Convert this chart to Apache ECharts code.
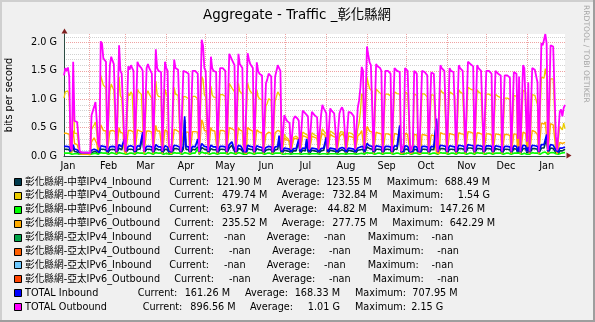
<!DOCTYPE html>
<html><head><meta charset="utf-8">
<script src="https://cdn.jsdelivr.net/npm/echarts@6/dist/echarts.min.js"></script>
<style>html,body{margin:0;padding:0;background:#F0F0F0}#c{width:595px;height:322px}</style>
</head><body><div id="c"></div>
<script>
// ---- data (values in Gbit/s, one per day starting 2025-01-13) ----
const startDate = [2025, 0, 13];
const dayCount = 383;
const monthNames = ['Jan','Feb','Mar','Apr','May','Jun','Jul','Aug','Sep','Oct','Nov','Dec'];
const yTickLabels = ['0.0 G','0.5 G','1.0 G','1.5 G','2.0 G'];

const outTotal = [
1.42,1.55,1.50,1.56,1.40,0.15,0.10, 1.66,0.62,0.60,0.60,0.58,0.08,0.06, 0.06,0.05,0.06,0.05,0.06,0.05,0.05,
0.72,0.75,0.87,0.95,0.62,0.22,0.15, 2.02,1.98,1.72,1.70,1.66,0.10,0.08, 1.60,1.75,1.68,1.62,1.60,0.08,0.07,
1.95,1.50,1.45,1.42,0.25,0.08,0.07, 1.58,1.52,1.60,1.55,1.50,0.09,0.07, 1.66,1.60,1.58,1.55,1.50,0.08,0.07,
1.55,1.62,1.55,1.50,1.45,0.08,0.07, 1.88,1.55,1.50,1.52,1.48,0.09,0.07, 1.66,1.55,1.50,0.20,0.15,0.08,0.07,
1.70,1.55,1.58,1.52,1.50,0.08,0.07, 1.50,1.52,1.48,1.50,1.45,0.08,0.07, 1.50,1.52,1.50,1.48,1.45,0.08,0.07,
2.05,1.95,1.55,1.50,1.50,0.09,0.07, 1.75,1.55,1.50,1.50,1.48,0.08,0.07, 1.55,1.58,1.55,1.52,1.50,0.08,0.07,
1.80,1.75,1.70,1.65,1.60,0.08,0.07, 1.80,1.62,1.60,1.55,0.20,0.08,0.07, 1.81,1.70,1.62,1.60,1.55,0.08,0.07,
1.65,1.50,1.45,1.45,1.42,0.08,0.07, 1.28,1.35,1.45,1.45,1.40,0.08,0.07, 1.40,1.42,1.60,1.55,1.50,0.10,0.08,
0.72,0.66,0.62,0.60,0.58,0.12,0.10, 0.65,0.70,0.68,0.66,0.62,0.12,0.10, 0.80,0.78,0.75,0.72,0.70,0.12,0.10,
0.78,0.75,0.72,0.70,0.68,0.12,0.10, 0.72,0.90,0.84,0.80,0.75,0.12,0.10, 0.84,0.80,0.78,0.75,0.72,0.12,0.10,
0.75,0.82,0.86,0.80,0.78,0.12,0.10, 0.78,0.80,0.76,0.74,0.70,0.12,0.10, 0.85,0.98,1.20,1.57,1.50,0.12,0.10,
1.93,1.78,1.65,1.60,1.58,0.09,0.07, 1.62,1.58,1.55,1.55,1.50,0.08,0.07, 1.50,1.48,1.50,1.48,1.45,0.08,0.07,
1.55,1.52,1.50,1.50,1.48,0.08,0.07, 0.20,1.55,1.52,1.50,1.48,0.08,0.07, 0.20,1.50,1.50,1.45,0.20,0.08,0.07,
1.50,1.50,1.48,1.45,1.42,0.08,0.07, 1.47,1.45,1.45,1.42,0.20,0.08,0.07, 1.60,1.55,1.52,1.50,1.48,0.08,0.07,
1.55,1.50,1.50,1.48,1.45,0.08,0.07, 1.60,1.55,1.52,1.50,1.48,0.08,0.07, 1.66,1.65,1.62,1.60,1.58,0.08,0.07,
1.60,1.55,1.55,1.50,1.48,0.08,0.07, 1.50,1.52,1.50,1.48,1.45,0.08,0.07, 1.50,1.50,1.45,1.45,1.42,0.08,0.07,
1.42,1.45,1.42,1.40,1.38,0.08,0.07, 1.48,1.50,1.45,0.30,1.40,0.08,0.07, 1.60,1.55,1.55,0.25,1.30,0.08,0.07,
1.55,1.55,1.52,1.50,1.30,0.08,0.07, 1.99,1.95,1.95,2.15,1.98,0.10,0.08, 1.95,1.95,1.93,1.90,0.35,0.10,0.08,
0.78,0.82,0.70,0.85,0.90];

const outV4 = [
1.02,1.13,1.10,1.15,1.02,0.09,0.05, 1.21,0.40,0.40,0.40,0.39,0.04,0.02, 0.03,0.02,0.03,0.02,0.03,0.02,0.02,
0.47,0.47,0.55,0.60,0.40,0.16,0.10, 1.42,1.40,1.25,1.22,1.20,0.05,0.04, 1.14,1.27,1.21,1.16,1.15,0.04,0.03,
1.40,1.06,1.02,1.00,0.16,0.04,0.03, 1.12,1.06,1.13,1.09,1.06,0.05,0.03, 1.18,1.13,1.12,1.09,1.06,0.04,0.03,
1.09,1.15,1.09,1.05,1.01,0.04,0.03, 1.32,1.09,1.05,1.06,1.04,0.05,0.03, 1.18,1.09,1.05,0.12,0.08,0.04,0.03,
1.21,1.09,1.11,1.07,1.06,0.04,0.03, 1.05,1.06,1.04,1.05,1.01,0.04,0.03, 1.05,1.06,1.05,1.04,1.01,0.04,0.03,
1.40,1.35,1.08,1.04,1.04,0.05,0.03, 1.23,1.08,1.04,1.04,1.03,0.04,0.03, 1.08,1.10,1.08,1.06,1.05,0.04,0.03,
1.28,1.24,1.20,1.17,1.13,0.04,0.03, 1.28,1.14,1.13,1.09,0.12,0.04,0.03, 1.29,1.20,1.14,1.13,1.09,0.04,0.03,
1.17,1.05,1.01,1.01,0.99,0.04,0.03, 0.88,0.93,1.01,1.01,0.98,0.04,0.03, 0.97,0.98,1.13,1.09,1.05,0.06,0.04,
0.38,0.34,0.32,0.30,0.29,0.07,0.05, 0.33,0.36,0.35,0.34,0.31,0.07,0.05, 0.42,0.41,0.39,0.37,0.36,0.07,0.05,
0.41,0.39,0.37,0.36,0.35,0.07,0.05, 0.37,0.48,0.44,0.42,0.39,0.07,0.05, 0.44,0.42,0.41,0.39,0.37,0.07,0.05,
0.39,0.43,0.45,0.42,0.41,0.07,0.05, 0.41,0.42,0.40,0.39,0.36,0.07,0.05, 0.48,0.58,0.78,1.10,1.06,0.07,0.05,
1.39,1.28,1.19,1.16,1.14,0.05,0.03, 1.18,1.15,1.13,1.13,1.09,0.04,0.03, 1.09,1.08,1.09,1.08,1.06,0.04,0.03,
1.13,1.11,1.10,1.10,1.09,0.04,0.03, 0.12,1.13,1.11,1.10,1.09,0.04,0.03, 0.12,1.10,1.10,1.06,0.12,0.04,0.03,
1.10,1.10,1.09,1.06,1.04,0.04,0.03, 1.08,1.06,1.07,1.04,0.12,0.04,0.03, 1.17,1.13,1.11,1.10,1.08,0.04,0.03,
1.13,1.10,1.10,1.09,1.06,0.04,0.03, 1.17,1.13,1.11,1.10,1.08,0.04,0.03, 1.21,1.21,1.18,1.17,1.16,0.04,0.03,
1.17,1.13,1.13,1.10,1.08,0.04,0.03, 1.09,1.10,1.09,1.08,1.06,0.04,0.03, 1.09,1.09,1.05,1.05,1.03,0.04,0.03,
1.02,1.04,1.02,1.01,1.00,0.04,0.03, 1.07,1.08,1.05,0.20,1.01,0.04,0.03, 1.16,1.13,1.13,0.16,0.92,0.04,0.03,
1.08,1.09,1.07,1.06,0.90,0.04,0.03, 1.39,1.36,1.37,1.54,1.39,0.05,0.04, 1.36,1.37,1.36,1.33,0.22,0.05,0.04,
0.52,0.55,0.46,0.58,0.48];

const outV6 = [
0.40,0.42,0.40,0.41,0.38,0.06,0.05, 0.45,0.22,0.20,0.20,0.19,0.04,0.04, 0.03,0.03,0.03,0.03,0.03,0.03,0.03,
0.25,0.28,0.32,0.35,0.22,0.06,0.05, 0.55,0.52,0.45,0.45,0.44,0.05,0.04, 0.44,0.46,0.45,0.44,0.43,0.04,0.04,
0.50,0.42,0.41,0.40,0.08,0.04,0.04, 0.45,0.44,0.45,0.44,0.42,0.04,0.04, 0.46,0.45,0.44,0.44,0.42,0.04,0.04,
0.44,0.45,0.44,0.43,0.42,0.04,0.04, 0.54,0.44,0.43,0.44,0.42,0.04,0.04, 0.46,0.44,0.43,0.07,0.06,0.04,0.04,
0.47,0.44,0.45,0.43,0.42,0.04,0.04, 0.43,0.44,0.42,0.43,0.42,0.04,0.04, 0.43,0.44,0.43,0.42,0.42,0.04,0.04,
0.64,0.58,0.45,0.44,0.44,0.04,0.04, 0.50,0.45,0.44,0.44,0.43,0.04,0.04, 0.45,0.46,0.45,0.44,0.43,0.04,0.04,
0.50,0.49,0.48,0.46,0.45,0.04,0.04, 0.50,0.46,0.45,0.44,0.07,0.04,0.04, 0.50,0.48,0.46,0.45,0.44,0.04,0.04,
0.46,0.43,0.42,0.42,0.41,0.04,0.04, 0.38,0.40,0.42,0.42,0.40,0.04,0.04, 0.41,0.42,0.45,0.44,0.43,0.04,0.04,
0.32,0.30,0.28,0.28,0.27,0.05,0.05, 0.30,0.32,0.31,0.30,0.29,0.05,0.05, 0.36,0.35,0.34,0.33,0.32,0.05,0.05,
0.35,0.34,0.33,0.32,0.31,0.05,0.05, 0.33,0.40,0.38,0.36,0.34,0.05,0.05, 0.38,0.36,0.35,0.34,0.33,0.05,0.05,
0.34,0.37,0.39,0.36,0.35,0.05,0.05, 0.35,0.36,0.34,0.33,0.32,0.05,0.05, 0.35,0.38,0.40,0.45,0.42,0.05,0.05,
0.52,0.48,0.44,0.42,0.42,0.04,0.04, 0.42,0.41,0.40,0.40,0.39,0.04,0.04, 0.39,0.38,0.39,0.38,0.37,0.04,0.04,
0.40,0.39,0.38,0.38,0.37,0.04,0.04, 0.06,0.40,0.39,0.38,0.37,0.04,0.04, 0.06,0.38,0.38,0.37,0.06,0.04,0.04,
0.38,0.38,0.37,0.37,0.36,0.04,0.04, 0.37,0.37,0.36,0.36,0.06,0.04,0.04, 0.41,0.40,0.39,0.38,0.38,0.04,0.04,
0.40,0.38,0.38,0.37,0.37,0.04,0.04, 0.41,0.40,0.39,0.38,0.38,0.04,0.04, 0.43,0.42,0.42,0.41,0.40,0.04,0.04,
0.41,0.40,0.40,0.38,0.38,0.04,0.04, 0.39,0.40,0.39,0.38,0.37,0.04,0.04, 0.39,0.39,0.38,0.38,0.37,0.04,0.04,
0.38,0.39,0.38,0.37,0.36,0.04,0.04, 0.39,0.40,0.38,0.08,0.37,0.04,0.04, 0.42,0.40,0.40,0.07,0.36,0.04,0.04,
0.45,0.44,0.43,0.42,0.38,0.04,0.04, 0.58,0.57,0.56,0.60,0.57,0.05,0.04, 0.57,0.56,0.55,0.55,0.12,0.04,0.04,
0.24,0.25,0.22,0.24,0.24];

const inTotal = [
0.17,0.18,0.17,0.18,0.16,0.08,0.07, 0.20,0.12,0.11,0.11,0.10,0.06,0.06, 0.06,0.06,0.06,0.06,0.06,0.06,0.06,
0.10,0.11,0.12,0.13,0.10,0.07,0.06, 0.18,0.19,0.17,0.17,0.16,0.07,0.07, 0.16,0.18,0.17,0.16,0.16,0.07,0.07,
0.20,0.17,0.16,0.16,0.30,0.08,0.07, 0.17,0.16,0.18,0.17,0.16,0.07,0.07, 0.18,0.17,0.17,0.16,0.42,0.08,0.07,
0.17,0.18,0.17,0.16,0.16,0.07,0.07, 0.20,0.17,0.16,0.17,0.16,0.07,0.07, 0.18,0.17,0.16,0.08,0.08,0.07,0.07,
0.19,0.17,0.18,0.17,0.16,0.07,0.07, 0.17,0.70,0.17,0.16,0.16,0.07,0.07, 0.17,0.17,0.16,0.16,0.30,0.07,0.07,
0.22,0.20,0.17,0.16,0.16,0.07,0.07, 0.19,0.17,0.16,0.17,0.16,0.07,0.07, 0.17,0.18,0.17,0.16,0.16,0.07,0.07,
0.20,0.19,0.25,0.18,0.17,0.07,0.07, 0.19,0.17,0.17,0.16,0.08,0.07,0.07, 0.19,0.18,0.17,0.17,0.16,0.07,0.07,
0.18,0.16,0.16,0.16,0.15,0.07,0.07, 0.15,0.16,0.17,0.16,0.16,0.07,0.07, 0.16,0.17,0.17,0.36,0.16,0.07,0.07,
0.14,0.13,0.13,0.12,0.12,0.07,0.06, 0.13,0.14,0.13,0.13,0.30,0.07,0.06, 0.14,0.14,0.13,0.30,0.12,0.07,0.06,
0.14,0.13,0.13,0.13,0.12,0.07,0.06, 0.13,0.15,0.14,0.14,0.33,0.07,0.06, 0.14,0.14,0.13,0.13,0.12,0.07,0.06,
0.13,0.14,0.15,0.14,0.13,0.07,0.06, 0.14,0.14,0.13,0.13,0.12,0.07,0.06, 0.14,0.15,0.16,0.18,0.17,0.07,0.06,
0.22,0.20,0.18,0.18,0.17,0.07,0.07, 0.18,0.18,0.17,0.17,0.16,0.07,0.07, 0.17,0.17,0.17,0.16,0.16,0.07,0.07,
0.18,0.17,0.17,0.17,0.54,0.07,0.07, 0.08,0.18,0.17,0.17,0.16,0.07,0.07, 0.08,0.17,0.17,0.16,0.08,0.07,0.07,
0.17,0.17,0.17,0.16,0.16,0.07,0.07, 0.17,0.17,0.16,0.16,0.66,0.07,0.07, 0.19,0.18,0.18,0.17,0.17,0.07,0.07,
0.18,0.17,0.17,0.17,0.16,0.07,0.07, 0.19,0.18,0.18,0.17,0.17,0.07,0.07, 0.20,0.19,0.19,0.18,0.18,0.07,0.07,
0.19,0.18,0.18,0.17,0.17,0.07,0.07, 0.18,0.18,0.18,0.17,0.17,0.07,0.07, 0.18,0.18,0.17,0.17,0.16,0.07,0.07,
0.17,0.18,0.17,0.17,0.16,0.07,0.07, 0.18,0.18,0.17,0.08,0.17,0.07,0.07, 0.19,0.18,0.18,0.08,0.16,0.07,0.07,
0.19,0.18,0.18,0.18,0.17,0.07,0.07, 0.20,0.20,0.20,0.22,0.38,0.08,0.07, 0.20,0.20,0.19,0.19,0.10,0.07,0.07,
0.14,0.15,0.14,0.16,0.16];

const inV4 = [
0.12,0.13,0.12,0.13,0.11,0.05,0.04, 0.14,0.08,0.07,0.07,0.06,0.03,0.03, 0.03,0.03,0.03,0.03,0.03,0.03,0.03,
0.06,0.07,0.08,0.08,0.06,0.04,0.03, 0.12,0.13,0.12,0.12,0.11,0.04,0.04, 0.11,0.12,0.12,0.11,0.11,0.04,0.04,
0.14,0.12,0.11,0.11,0.26,0.05,0.04, 0.12,0.11,0.12,0.12,0.11,0.04,0.04, 0.12,0.12,0.12,0.11,0.37,0.05,0.04,
0.12,0.12,0.12,0.11,0.11,0.04,0.04, 0.14,0.12,0.11,0.12,0.11,0.04,0.04, 0.12,0.12,0.11,0.05,0.05,0.04,0.04,
0.13,0.12,0.13,0.12,0.11,0.04,0.04, 0.12,0.64,0.12,0.11,0.11,0.04,0.04, 0.12,0.12,0.11,0.11,0.16,0.04,0.04,
0.15,0.14,0.12,0.11,0.11,0.04,0.04, 0.13,0.12,0.11,0.12,0.11,0.04,0.04, 0.12,0.12,0.12,0.11,0.11,0.04,0.04,
0.14,0.13,0.19,0.13,0.12,0.04,0.04, 0.13,0.12,0.12,0.11,0.05,0.04,0.04, 0.13,0.12,0.12,0.12,0.11,0.04,0.04,
0.13,0.11,0.11,0.11,0.10,0.04,0.04, 0.10,0.11,0.12,0.11,0.11,0.04,0.04, 0.11,0.12,0.12,0.31,0.11,0.04,0.04,
0.10,0.09,0.09,0.08,0.08,0.04,0.03, 0.09,0.10,0.09,0.09,0.26,0.04,0.03, 0.10,0.10,0.09,0.26,0.08,0.04,0.03,
0.10,0.09,0.09,0.09,0.08,0.04,0.03, 0.09,0.11,0.10,0.10,0.29,0.04,0.03, 0.10,0.10,0.09,0.09,0.08,0.04,0.03,
0.09,0.10,0.11,0.10,0.09,0.04,0.03, 0.10,0.10,0.09,0.09,0.08,0.04,0.03, 0.10,0.11,0.11,0.13,0.12,0.04,0.03,
0.16,0.14,0.13,0.13,0.12,0.04,0.04, 0.12,0.13,0.12,0.12,0.11,0.04,0.04, 0.12,0.12,0.12,0.11,0.11,0.04,0.04,
0.12,0.12,0.12,0.12,0.49,0.04,0.04, 0.05,0.12,0.12,0.12,0.11,0.04,0.04, 0.05,0.12,0.12,0.11,0.05,0.04,0.04,
0.12,0.12,0.12,0.11,0.11,0.04,0.04, 0.12,0.12,0.11,0.11,0.61,0.04,0.04, 0.13,0.13,0.13,0.12,0.12,0.04,0.04,
0.12,0.12,0.12,0.12,0.11,0.04,0.04, 0.13,0.13,0.13,0.12,0.12,0.04,0.04, 0.14,0.14,0.14,0.13,0.13,0.04,0.04,
0.13,0.13,0.13,0.12,0.12,0.04,0.04, 0.13,0.13,0.13,0.12,0.12,0.04,0.04, 0.13,0.13,0.12,0.12,0.11,0.04,0.04,
0.12,0.13,0.12,0.12,0.11,0.04,0.04, 0.13,0.13,0.12,0.05,0.12,0.04,0.04, 0.13,0.13,0.13,0.05,0.11,0.04,0.04,
0.13,0.13,0.13,0.13,0.12,0.04,0.04, 0.14,0.14,0.14,0.15,0.32,0.05,0.04, 0.14,0.14,0.13,0.13,0.06,0.04,0.04,
0.09,0.10,0.09,0.10,0.12];

const inV6 = [
0.05,0.05,0.05,0.05,0.05,0.03,0.03, 0.06,0.04,0.04,0.04,0.04,0.03,0.03, 0.03,0.03,0.03,0.03,0.03,0.03,0.03,
0.04,0.04,0.04,0.05,0.04,0.03,0.03, 0.06,0.06,0.05,0.05,0.05,0.03,0.03, 0.05,0.06,0.05,0.05,0.05,0.03,0.03,
0.06,0.05,0.05,0.05,0.04,0.03,0.03, 0.05,0.05,0.06,0.05,0.05,0.03,0.03, 0.06,0.05,0.05,0.05,0.05,0.03,0.03,
0.05,0.06,0.05,0.05,0.05,0.03,0.03, 0.06,0.05,0.05,0.05,0.05,0.03,0.03, 0.06,0.05,0.05,0.03,0.03,0.03,0.03,
0.06,0.05,0.05,0.05,0.05,0.03,0.03, 0.05,0.06,0.05,0.05,0.05,0.03,0.03, 0.05,0.05,0.05,0.05,0.14,0.03,0.03,
0.07,0.06,0.05,0.05,0.05,0.03,0.03, 0.06,0.05,0.05,0.05,0.05,0.03,0.03, 0.05,0.06,0.05,0.05,0.05,0.03,0.03,
0.06,0.06,0.06,0.05,0.05,0.03,0.03, 0.06,0.05,0.05,0.05,0.03,0.03,0.03, 0.06,0.06,0.05,0.05,0.05,0.03,0.03,
0.05,0.05,0.05,0.05,0.05,0.03,0.03, 0.05,0.05,0.05,0.05,0.05,0.03,0.03, 0.05,0.05,0.05,0.05,0.05,0.03,0.03,
0.04,0.04,0.04,0.04,0.04,0.03,0.03, 0.04,0.04,0.04,0.04,0.04,0.03,0.03, 0.04,0.04,0.04,0.04,0.04,0.03,0.03,
0.04,0.04,0.04,0.04,0.04,0.03,0.03, 0.04,0.04,0.04,0.04,0.04,0.03,0.03, 0.04,0.04,0.04,0.04,0.04,0.03,0.03,
0.04,0.04,0.04,0.04,0.04,0.03,0.03, 0.04,0.04,0.04,0.04,0.04,0.03,0.03, 0.04,0.04,0.05,0.05,0.05,0.03,0.03,
0.06,0.06,0.05,0.05,0.05,0.03,0.03, 0.06,0.05,0.05,0.05,0.05,0.03,0.03, 0.05,0.05,0.05,0.05,0.05,0.03,0.03,
0.06,0.05,0.05,0.05,0.05,0.03,0.03, 0.03,0.06,0.05,0.05,0.05,0.03,0.03, 0.03,0.05,0.05,0.05,0.03,0.03,0.03,
0.05,0.05,0.05,0.05,0.05,0.03,0.03, 0.05,0.05,0.05,0.05,0.05,0.03,0.03, 0.06,0.05,0.05,0.05,0.05,0.03,0.03,
0.06,0.05,0.05,0.05,0.05,0.03,0.03, 0.06,0.05,0.05,0.05,0.05,0.03,0.03, 0.06,0.05,0.05,0.05,0.05,0.03,0.03,
0.06,0.05,0.05,0.05,0.05,0.03,0.03, 0.05,0.05,0.05,0.05,0.05,0.03,0.03, 0.05,0.05,0.05,0.05,0.05,0.03,0.03,
0.05,0.05,0.05,0.05,0.05,0.03,0.03, 0.05,0.05,0.05,0.03,0.05,0.03,0.03, 0.06,0.05,0.05,0.03,0.05,0.03,0.03,
0.06,0.05,0.05,0.05,0.05,0.03,0.03, 0.06,0.06,0.06,0.07,0.06,0.03,0.03, 0.06,0.06,0.06,0.06,0.04,0.03,0.03,
0.05,0.05,0.05,0.06,0.06];

// ---- legend text ----
const legendNames = ['彰化縣網-中華IPv4_Inbound','彰化縣網-中華IPv4_Outbound','彰化縣網-中華IPv6_Inbound','彰化縣網-中華IPv6_Outbound',
  '彰化縣網-亞太IPv4_Inbound','彰化縣網-亞太IPv4_Outbound','彰化縣網-亞太IPv6_Inbound','彰化縣網-亞太IPv6_Outbound','TOTAL Inbound','TOTAL Outbound'];
const legendColors = ['#003A4C','#EACC00','#00FF00','#FFAB00','#00A348','#FF5F00','#6DC8FE','#FF4400','#0000FF','#FF00FF'];
const legendStats = [
  ['121.90 M','123.55 M','688.49 M'], ['479.74 M','732.84 M','1.54 G'], ['63.97 M','44.82 M','147.26 M'], ['235.52 M','277.75 M','642.29 M'],
  ['-nan','-nan','-nan'], ['-nan','-nan','-nan'], ['-nan','-nan','-nan'], ['-nan','-nan','-nan'],
  ['161.26 M','168.33 M','707.95 M'], ['896.56 M','1.01 G','2.15 G']];
const statLabels = ['Current:','Average:','Maximum:'];

// ---- layout ----
const FONT = "'DejaVu Sans', 'Noto Sans CJK TC', sans-serif";
const G = {left: 64, top: 34, width: 501, height: 122};
const legendX = [
  [169.3,261.7,276.7,371.7,386.7,490],[174.3,267.3,281.7,377.7,392.3,490],[169.3,259.3,274,366.7,381.7,485],[174.3,267.3,281.7,377.7,392.3,495],
  [169.3,245.7,266.7,345.7,367.7,453.3],[174.3,250.7,272.3,350.7,372.7,459],[169.3,245.7,266.7,345.7,367.7,453.3],[174.3,250.7,272.3,350.7,372.7,459],
  [137.7,230,245,340,355,457.7],[142.7,235.7,250,340,355,443.3]];

const categories = [];
{
  const t0 = Date.UTC(startDate[0], startDate[1], startDate[2]);
  for (let i = 0; i < dayCount; i++) categories.push(new Date(t0 + i * 86400000).toISOString().slice(0, 10));
}

const graphics = [];
// bevel frame
graphics.push({type:'rect', shape:{x:0,y:0,width:595,height:2}, style:{fill:'#CFCFCF'}, silent:true});
graphics.push({type:'rect', shape:{x:0,y:0,width:2,height:322}, style:{fill:'#CFCFCF'}, silent:true});
graphics.push({type:'rect', shape:{x:0,y:320,width:595,height:2}, style:{fill:'#9E9E9E'}, silent:true});
graphics.push({type:'rect', shape:{x:593,y:0,width:2,height:322}, style:{fill:'#9E9E9E'}, silent:true});
// title
graphics.push({type:'text', x:297, y:15.5, style:{text:'Aggregate - Traffic _彰化縣網', fill:'#000', font:'13.4px ' + FONT, align:'center', verticalAlign:'middle', textAlign:'center', textVerticalAlign:'middle'}});
// watermark
graphics.push({type:'text', x:586, y:5, rotation:-Math.PI/2, style:{text:'RRDTOOL / TOBI OETIKER', fill:'#A5A5A5', font:'7.6px ' + FONT, align:'left', verticalAlign:'middle', textAlign:'left', textVerticalAlign:'middle'}});
// arrows
graphics.push({type:'polygon', shape:{points:[[61.5,33.5],[67.5,33.5],[64.5,28.5]]}, style:{fill:'#7F1F1F'}, z:10});
graphics.push({type:'polygon', shape:{points:[[566.5,152.5],[566.5,158.5],[571.5,155.5]]}, style:{fill:'#7F1F1F'}, z:10});
// legend
for (let i = 0; i < legendNames.length; i++) {
  const cy = 182 + i * 13.9;
  const px = legendX[i];
  const ts = (text, x, align) => ({type:'text', x:x, y:cy, style:{text:text, fill:'#000', font:'9.7px ' + FONT, align:align, verticalAlign:'middle', textAlign:align, textVerticalAlign:'middle'}});
  graphics.push({type:'rect', shape:{x:14.5, y:Math.round(cy) - 3.5, width:7, height:7}, style:{fill:legendColors[i], stroke:'#000', lineWidth:1}});
  graphics.push(ts(legendNames[i], 25, 'left'));
  for (let j = 0; j < 3; j++) {
    graphics.push(ts(statLabels[j], px[j * 2], 'left'));
    graphics.push(ts(legendStats[i][j], px[j * 2 + 1], 'right'));
  }
}

const mk = (name, data, color, width) => ({
  name, type:'line', data, showSymbol:false, symbol:'none', smooth:false, animation:false,
  lineStyle:{color, width}, itemStyle:{color}, emphasis:{disabled:true}
});

const chart = echarts.init(document.getElementById('c'), null, {renderer:'canvas'});
chart.setOption({
  animation:false,
  backgroundColor:'#F0F0F0',
  grid:{left:G.left, top:G.top, width:G.width, height:G.height, containLabel:false, outerBoundsMode:'none', show:true, backgroundColor:'#FFFFFF', borderWidth:0},
  xAxis:{
    type:'category', data:categories, boundaryGap:false,
    axisLine:{show:true, onZero:false, lineStyle:{color:'#2C4D43', width:1}},
    axisTick:{show:false},
    axisLabel:{interval:(i, v) => v.slice(8) === '16', formatter:v => monthNames[+v.slice(5,7) - 1], color:'#000', fontSize:9.7, fontFamily:FONT, margin:6},
    splitLine:{show:true, interval:(i, v) => v.slice(8) === '01' && i > 0, lineStyle:{color:'#EFA3A3', width:1, type:[1,1]}}
  },
  yAxis:[
    {type:'value', min:0, max:2.15, interval:0.5, z:2,
     axisLine:{show:true, lineStyle:{color:'#2C4D43', width:1}},
     axisTick:{show:false},
     axisLabel:{formatter:v => { const k = Math.round(v / 0.5); return (Math.abs(v - k * 0.5) < 1e-6 && k < yTickLabels.length) ? yTickLabels[k] : ''; }, color:'#000', fontSize:9.7, fontFamily:FONT, margin:7, showMaxLabel:false},
     splitLine:{show:true, showMinLine:false, showMaxLine:false, lineStyle:{color:'#EFA3A3', width:1, type:[1,1]}},
     name:'bits per second', nameLocation:'middle', nameGap:50, nameRotate:90,
     nameTextStyle:{color:'#000', fontSize:9.7, fontFamily:FONT}},
    {type:'value', min:0, max:2.15, interval:0.1, z:1, position:'left',
     axisLine:{show:false}, axisTick:{show:false}, axisLabel:{show:false},
     splitLine:{show:true, showMinLine:false, showMaxLine:false, lineStyle:{color:'#D2D2D2', width:1, type:[1,1]}}}
  ],
  graphic:{elements:graphics},
  series:[
    mk('彰化縣網-中華IPv4_Inbound', inV4, '#003A4C', 1.6),
    mk('彰化縣網-中華IPv4_Outbound', outV4, '#EACC00', 1.3),
    mk('彰化縣網-中華IPv6_Inbound', inV6, '#00FF00', 1.6),
    mk('彰化縣網-中華IPv6_Outbound', outV6, '#FFAB00', 1.4),
    mk('TOTAL Inbound', inTotal, '#0000FF', 1.7),
    mk('TOTAL Outbound', outTotal, '#FF00FF', 1.8)
  ]
});
</script>
</body></html>
